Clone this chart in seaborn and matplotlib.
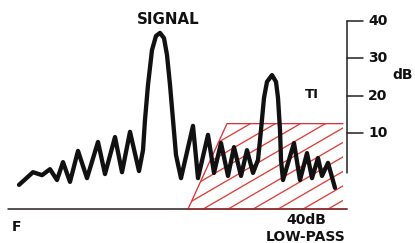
import numpy as np
import matplotlib
matplotlib.use("Agg")
import matplotlib.pyplot as plt
import seaborn as sns
import pandas as pd
from matplotlib.patches import Polygon

# ---------------- data ----------------
freq = [19, 33, 42, 50, 57, 63, 70, 78, 87, 98, 105, 115, 122, 130,
        139, 143, 145, 148, 152, 156, 160, 164, 167, 170, 173, 176, 181,
        193, 198, 208, 214, 221, 228, 234, 241, 247, 253,
        258, 261, 264, 267, 272, 276, 278, 280, 281, 283,
        294, 300, 307, 312, 318, 322, 328, 335]
level_db = [-3.9, -0.5, -1.3, 0.3, -2.6, 2.2, -3.1, 5.2, -2.1, 7.6, -1.0, 8.9, -0.5, 10.3,
            -0.2, 5.4, 13.5, 22.9, 32.2, 36.0, 36.8, 35.4, 30.9, 22.9, 13.5, 4.1, -2.1,
            11.9, -2.1, 9.5, -0.7, 7.3, -1.5, 6.2, -1.5, 5.4, -0.7,
            2.8, 10.8, 19.4, 23.7, 25.5, 23.7, 19.4, 10.8, 2.8, -2.6,
            7.3, -2.6, 4.6, -2.1, 3.3, -1.5, 2.0, -4.7]

filter_x = [188, 227, 343, 343]
filter_db = [-10.4, 12.5, 12.5, -10.4]

db_ticks = [10, 20, 30, 40]
tick_labels = ["10", "20", "30", "40"]
baseline_db = -10.4
axis_bottom_db = -0.7

# ---------------- figure ----------------
sns.set_theme(style="white")
plt.rcParams['font.family'] = ['DejaVu Sans']

fig = plt.figure(figsize=(4.15, 2.43), dpi=100)
ax = fig.add_axes([0, 0, 1, 1])
ax.set_xlim(0, 415)
ax.set_ylim(-19.47, 45.62)
ax.axis('off')

red = '#df3f3a'

# hatched low-pass region
poly = Polygon(list(zip(filter_x, filter_db)), closed=True, facecolor='none',
               edgecolor='none')
ax.add_patch(poly)
px_per_db = 3.733
slope = 0.58 / px_per_db
for b in np.arange(203 - 25 * 5, 370, 25):
    xs = np.array([150, 370])
    ys = baseline_db + slope * (xs - b)
    ln, = ax.plot(xs, ys, color=red, lw=0.95, zorder=1)
    ln.set_clip_path(poly)
ax.plot(filter_x[:3], filter_db[:3], color='#d8343c', lw=0.95, zorder=1)

# baseline
ax.plot([8, 347], [baseline_db, baseline_db], color='#2a2222', lw=1.1, zorder=2)
ax.plot([filter_x[0], 347], [baseline_db, baseline_db], color='#a83434', lw=1.1, zorder=2)

# signal spectrum
df = pd.DataFrame({"freq": freq, "level": level_db})
sns.lineplot(data=df, x="freq", y="level", sort=False, estimator=None,
             color='#111111', lw=3.1, ax=ax, zorder=3,
             solid_joinstyle='round', solid_capstyle='round')
ax.set_xlabel('')
ax.set_ylabel('')
ax.axis('off')

# dB scale on the right
ax.plot([347, 347], [axis_bottom_db, db_ticks[-1]], color='#222222', lw=1.1, zorder=2)
for t, lab in zip(db_ticks, tick_labels):
    ax.plot([347, 363], [t, t], color='#222222', lw=1.1, zorder=2)
    ax.text(368, t, lab, ha='left', va='center', fontsize=10, fontweight='bold',
            color='#111111')
ax.text(413, 25.5, 'dB', ha='right', va='center', fontsize=10, fontweight='bold',
        color='#111111')

# labels
ax.text(168, 40.3, 'SIGNAL', ha='center', va='center', fontsize=10.8,
        fontweight='bold', color='#111111')
ax.text(312, 20.2, 'TI', ha='center', va='center', fontsize=9.5,
        fontweight='bold', color='#111111')
ax.text(12, -15.2, 'F', ha='left', va='center', fontsize=10,
        fontweight='bold', color='#111111')
ax.text(306, -13.3, '40dB', ha='center', va='center', fontsize=10,
        fontweight='bold', color='#111111')
ax.text(306, -17.9, 'LOW-PASS', ha='center', va='center', fontsize=10,
        fontweight='bold', color='#111111')

fig.savefig('out.png', dpi=100, facecolor='white')
